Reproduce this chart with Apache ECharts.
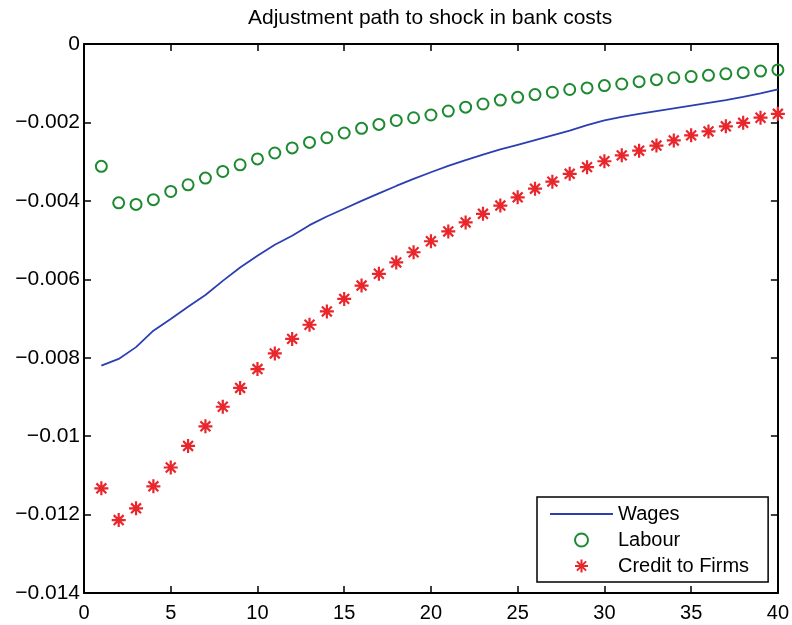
<!DOCTYPE html>
<html>
<head>
<meta charset="utf-8">
<script src="https://cdn.jsdelivr.net/npm/echarts@6/dist/echarts.min.js"></script>
<style>
html,body{margin:0;padding:0;background:#fff;}
#chart{width:792px;height:625px;}
</style>
</head>
<body>
<div id="chart"></div>
<script>
const titleText = 'Adjustment path to shock in bank costs';
const seriesNames = ['Wages', 'Labour', 'Credit to Firms'];
const periods = [1,2,3,4,5,6,7,8,9,10,11,12,13,14,15,16,17,18,19,20,21,22,23,24,25,26,27,28,29,30,31,32,33,34,35,36,37,38,39,40];
const wages = [-0.00820,-0.00803,-0.00773,-0.00731,-0.00701,-0.00670,-0.00640,-0.00604,-0.00570,-0.00540,
  -0.00512,-0.00489,-0.00462,-0.00440,-0.00420,-0.00400,-0.00381,-0.00362,-0.00344,-0.00327,
  -0.00311,-0.00296,-0.00282,-0.00269,-0.00257,-0.00245,-0.00233,-0.00221,-0.00207,-0.00195,
  -0.00186,-0.00178,-0.00171,-0.00164,-0.00157,-0.00150,-0.00143,-0.00135,-0.00126,-0.00116];
const labour = [-0.00312,-0.00405,-0.00409,-0.00397,-0.00376,-0.00359,-0.00342,-0.00325,-0.00308,-0.00293,
  -0.00278,-0.00265,-0.00251,-0.00239,-0.00227,-0.00215,-0.00205,-0.00195,-0.00188,-0.00181,
  -0.00171,-0.00161,-0.00153,-0.00143,-0.00136,-0.00129,-0.00123,-0.00116,-0.00112,-0.00106,
  -0.00102,-0.00096,-0.00091,-0.00086,-0.00083,-0.00080,-0.00076,-0.00073,-0.00069,-0.00066];
const credit = [-0.01133,-0.01214,-0.01184,-0.01128,-0.01080,-0.01025,-0.00975,-0.00925,-0.00877,-0.00829,
  -0.00789,-0.00752,-0.00716,-0.00682,-0.00650,-0.00616,-0.00586,-0.00557,-0.00531,-0.00503,
  -0.00478,-0.00455,-0.00433,-0.00412,-0.00391,-0.00369,-0.00351,-0.00331,-0.00314,-0.00299,
  -0.00284,-0.00272,-0.00259,-0.00246,-0.00233,-0.00223,-0.00210,-0.00201,-0.00188,-0.00178];
const xTicks = {min: 0, max: 40, interval: 5};
const yTicks = {min: -0.014, max: 0, interval: 0.002};

const FONT = 'Liberation Sans, Arial, sans-serif';
const pairs = arr => periods.map((p, i) => [p, arr[i]]);
const starPath = 'path://M0,-10L0,10M-10,0L10,0M-7.07,-7.07L7.07,7.07M-7.07,7.07L7.07,-7.07';
const axisCommon = {
  axisLine: {show: true, onZero: false, lineStyle: {color: '#000', width: 2}},
  axisTick: {show: true, inside: true, length: 7, lineStyle: {color: '#000', width: 1.5}},
  splitLine: {show: false}
};

const chart = echarts.init(document.getElementById('chart'), null, {renderer: 'canvas'});
chart.setOption({
  animation: false,
  backgroundColor: '#fff',
  title: {
    text: titleText, left: 248, top: 8, padding: 0,
    textStyle: {fontFamily: FONT, fontSize: 21, fontWeight: 'normal', color: '#000'}
  },
  grid: {left: 84, right: 14, top: 44, bottom: 32},
  xAxis: [
    Object.assign({type: 'value', position: 'bottom'}, xTicks, axisCommon, {
      axisLabel: {show: true, margin: 10, color: '#000', fontFamily: FONT, fontSize: 20}
    }),
    Object.assign({type: 'value', position: 'top'}, xTicks, axisCommon, {axisLabel: {show: false}})
  ],
  yAxis: [
    Object.assign({type: 'value', position: 'left'}, yTicks, axisCommon, {
      axisLabel: {show: true, margin: 4, color: '#000', fontFamily: FONT, fontSize: 21,
        formatter: v => (Math.abs(v) < 1e-12 ? '0' : String(+v.toFixed(4)).replace('-', '\u2212'))}
    }),
    Object.assign({type: 'value', position: 'right'}, yTicks, axisCommon, {axisLabel: {show: false}})
  ],
  legend: {
    show: true,
    orient: 'vertical', left: 537, top: 497,
    itemWidth: 63, itemHeight: 13, itemGap: 6,
    borderColor: '#000', borderWidth: 1.5, borderRadius: 0,
    padding: [7, 19, 6, 12],
    backgroundColor: '#fff',
    textStyle: {fontFamily: FONT, fontSize: 20, color: '#000'},
    data: [
      {name: seriesNames[0], itemStyle: {opacity: 0}},
      {name: seriesNames[1]},
      {name: seriesNames[2]}
    ]
  },
  series: [
    {
      name: seriesNames[0], type: 'line', data: pairs(wages),
      showSymbol: false, symbol: 'none', smooth: false,
      lineStyle: {color: '#2b3fb3', width: 1.8},
      itemStyle: {color: '#2b3fb3'},
      z: 2
    },
    {
      name: seriesNames[1], type: 'scatter', data: pairs(labour),
      symbol: 'circle', symbolSize: 11,
      itemStyle: {color: 'rgba(0,0,0,0)', borderColor: '#1d8a31', borderWidth: 2, opacity: 1},
      z: 3
    },
    {
      name: seriesNames[2], type: 'scatter', data: pairs(credit),
      symbol: starPath, symbolSize: 14,
      itemStyle: {color: 'rgba(0,0,0,0)', borderColor: '#e8262c', borderWidth: 2.2, opacity: 1},
      z: 3
    }
  ]
});
</script>
</body>
</html>
